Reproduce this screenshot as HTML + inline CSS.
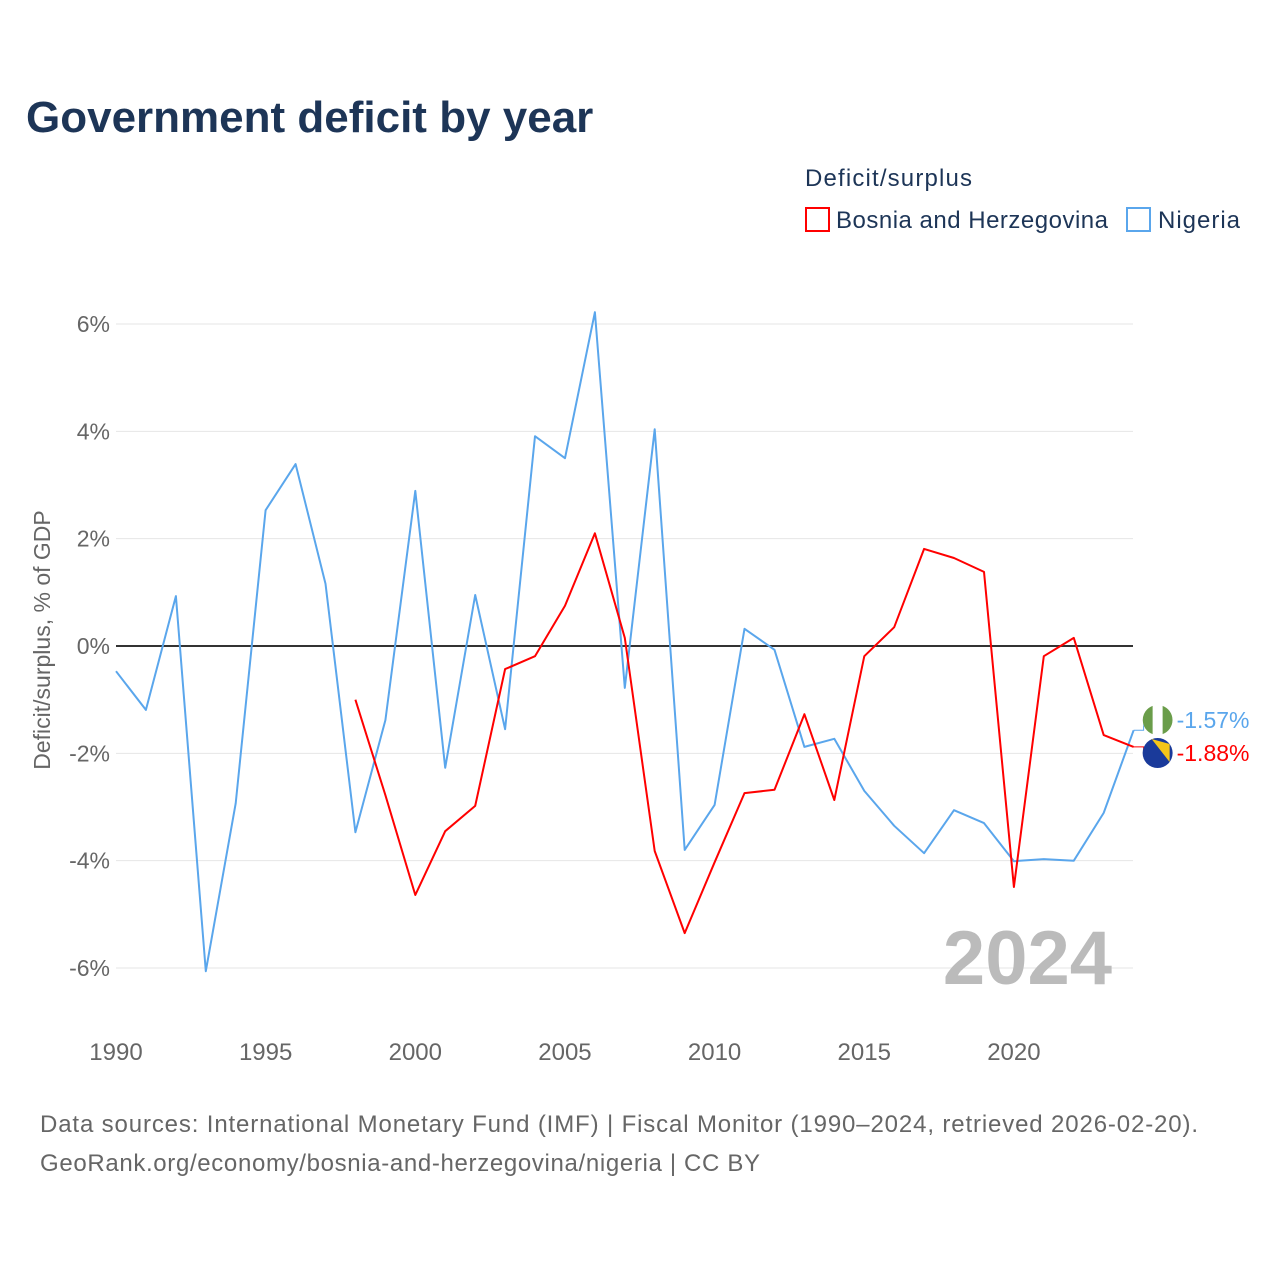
<!DOCTYPE html>
<html><head><meta charset="utf-8"><style>
body{margin:0;background:#fff;font-family:"Liberation Sans",sans-serif;}
svg text{font-family:"Liberation Sans",sans-serif;}
</style></head><body>
<svg id="chart" width="1280" height="1280" viewBox="0 0 1280 1280" xmlns="http://www.w3.org/2000/svg">
<text x="26" y="132" font-size="44" font-weight="bold" fill="#1d3557">Government deficit by year</text>
<text x="805" y="186" font-size="24" fill="#1d3557" textLength="167">Deficit/surplus</text>
<g><rect x="806" y="208" width="23" height="23" fill="none" stroke="#ff0000" stroke-width="2"/><text x="836" y="228" font-size="24" fill="#1d3557" textLength="272">Bosnia and Herzegovina</text></g>
<g><rect x="1127" y="208" width="23" height="23" fill="none" stroke="#5aa6ec" stroke-width="2"/><text x="1158" y="228" font-size="24" fill="#1d3557" textLength="82">Nigeria</text></g>
<text transform="translate(50,640) rotate(-90)" text-anchor="middle" font-size="23" fill="#666">Deficit/surplus, % of GDP</text>
<g id="grid"></g><g id="series"></g>
<text x="1112" y="984" text-anchor="end" font-size="76" font-weight="bold" fill="#bbb">2024</text>
<text x="40" y="1132" font-size="24" fill="#666" textLength="1158">Data sources: International Monetary Fund (IMF) | Fiscal Monitor (1990–2024, retrieved 2026-02-20).</text>
<text x="40" y="1171" font-size="24" fill="#666" textLength="720">GeoRank.org/economy/bosnia-and-herzegovina/nigeria | CC BY</text>
</svg>
<script>
const years=[];for(let y=1990;y<=2024;y++)years.push(y);
const nigeria=[-0.47,-1.19,0.93,-6.06,-2.93,2.53,3.39,1.16,-3.47,-1.38,2.89,-2.27,0.95,-1.55,3.91,3.50,6.22,-0.78,4.04,-3.80,-2.96,0.32,-0.07,-1.88,-1.73,-2.70,-3.35,-3.86,-3.06,-3.30,-4.01,-3.97,-4.00,-3.11,-1.57];
const bosnia=[null,null,null,null,null,null,null,null,-1.0,-2.78,-4.64,-3.45,-2.98,-0.43,-0.19,0.75,2.10,0.15,-3.82,-5.35,-4.03,-2.74,-2.68,-1.27,-2.87,-0.19,0.35,1.81,1.64,1.38,-4.49,-0.19,0.15,-1.66,-1.88];
const yTicks=[6,4,2,0,-2,-4,-6];
const xTicks=[1990,1995,2000,2005,2010,2015,2020];
const NS="http://www.w3.org/2000/svg";
const X=y=>116+(y-1990)*29.93, Y=v=>646-v*53.67;
const grid=document.getElementById('grid'),ser=document.getElementById('series');
function mk(t,a,p){const e=document.createElementNS(NS,t);for(const k in a)e.setAttribute(k,a[k]);p.appendChild(e);return e;}
yTicks.forEach(v=>{
 const l=mk('line',{x1:116,x2:1133,y1:Y(v),y2:Y(v),stroke:v===0?'#333':'#e6e6e6','stroke-width':v===0?2:1},grid);
 
 
 const t=mk('text',{x:110,y:Y(v)+8,'text-anchor':'end','font-size':23,fill:'#666'},grid);t.textContent=v+'%';
 
 
});
xTicks.forEach(v=>{const t=mk('text',{x:X(v),y:1060,'text-anchor':'middle','font-size':24,fill:'#666'},grid);t.textContent=v;
 
 });
function line(data,color,name){
 let d='';data.forEach((v,i)=>{if(v===null)return;d+=(d?'L':'M')+X(years[i]).toFixed(1)+','+Y(v).toFixed(1);});
 const p=mk('path',{d:d,fill:'none',stroke:color,'stroke-width':2,'stroke-linejoin':'round'},ser);
 
 
}
line(nigeria,'#5aa6ec','nigeria-line');line(bosnia,'#ff0000','bosnia-line');
function endLabel(v,ly,color,name,flag){
 const x=X(2024);
 mk('path',{d:`M${x},${Y(v)}L${x+10},${Y(v)}L${x+10},${ly}L${x+14},${ly}`,fill:'none',stroke:color,'stroke-width':1},ser);
 const g=mk('g',{},ser);
 
 
 flag(g,x+24,ly);
 const t=mk('text',{x:x+43,y:ly+8,'font-size':23,fill:color},g);t.textContent=v.toFixed(2)+'%';
}
endLabel(nigeria[34],720,'#5aa6ec','nigeria-end-label',(g,cx,cy)=>{
 mk('circle',{cx:cx,cy:cy,r:15,fill:'#fff'},g);
 mk('path',{d:`M${cx-5},${cy-14.1}A15,15 0 0 0 ${cx-5},${cy+14.1}Z`,fill:'#6a9d4a'},g);
 mk('path',{d:`M${cx+5},${cy-14.1}A15,15 0 0 1 ${cx+5},${cy+14.1}Z`,fill:'#6a9d4a'},g);
});
endLabel(bosnia[34],753,'#ff0000','bosnia-end-label',(g,cx,cy)=>{
 mk('circle',{cx:cx,cy:cy,r:15,fill:'#1a3a9a'},g);
 mk('path',{d:`M${cx-6},${cy-14}L${cx+12},${cy-9}L${cx+12},${cy+9}Z`,fill:'#f5c518'},g);
});
</script>
</body></html>
